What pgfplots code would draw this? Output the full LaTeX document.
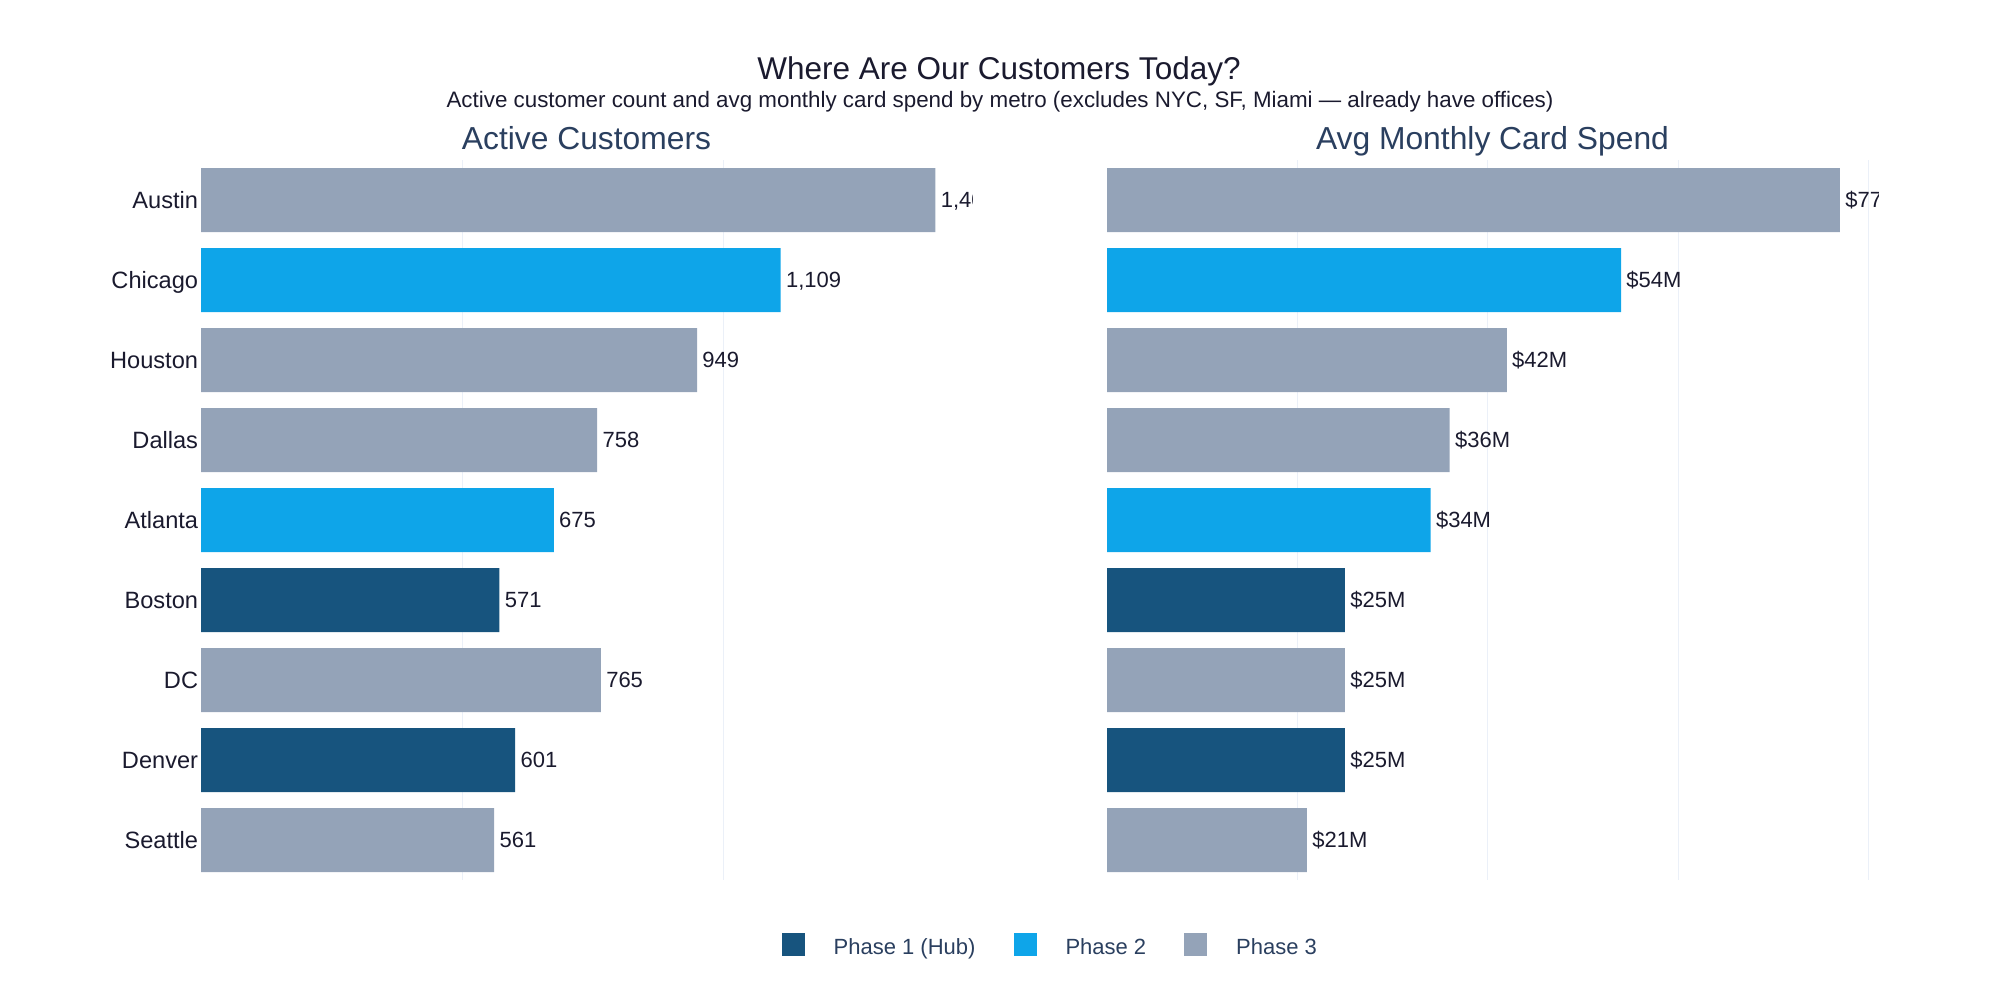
\documentclass[border=0pt]{standalone}
\usepackage{pgfplots}
\pgfplotsset{compat=1.18}
\usepackage{fontspec}
\setmainfont{Liberation Sans}

\definecolor{pone}{HTML}{17547E}
\definecolor{ptwo}{HTML}{0EA5E9}
\definecolor{pthree}{HTML}{94A3B8}
\definecolor{ink}{HTML}{1A1A2E}
\definecolor{navy}{HTML}{2A3F5F}
\definecolor{gridc}{HTML}{EBF0F8}

\pgfplotsset{
  metro/.style={
    scale only axis, width=385.5pt, height=360pt,
    anchor=south west,
    xbar, bar width=0.8, bar shift=0pt,
    y dir=reverse, ymin=-0.5, ymax=8.5,
    xmin=0,
    ytick={0,...,8},
    axis line style={draw=none},
    tick style={draw=none},
    xticklabels={},
    xmajorgrids, major grid style={gridc, line width=0.5pt},
    clip marker paths=true,
    point meta=x,
    nodes near coords,
    every node near coord/.append style={font=\fontsize{11}{13}\selectfont, text=ink,
      anchor=west, inner xsep=2.5pt, text height=7.9pt, text depth=0pt},
    yticklabel style={font=\fontsize{11.8}{14}\selectfont, text=ink,
      inner xsep=1pt, xshift=4pt, text height=8.45pt, text depth=0pt},
    title style={at={(0.5,1)}, anchor=base, yshift=-0.5pt,
      font=\fontsize{15.9}{18}\selectfont, text=navy},
    /pgf/number format/assume math mode=true,
  },
}

\begin{document}
\begin{tikzpicture}
\useasboundingbox (0,0) rectangle (1000pt,500pt);

\node[anchor=base, font=\fontsize{15.75}{18}\selectfont, text=ink] at (499.5pt,460pt)
  {Where Are Our Customers Today?};
\node[anchor=base, font=\fontsize{11.18}{13}\selectfont, text=ink] at (500pt,446.2pt)
  {Active customer count and avg monthly card spend by metro (excludes NYC, SF, Miami — already have offices)};

% left: active customers
\begin{axis}[metro, at={(100.5pt,60pt)},
  xmax=1475, xtick={500,1000},
  title={Active Customers},
  yticklabels={Austin,Chicago,Houston,Dallas,Atlanta,Boston,DC,Denver,Seattle},
  legend cell align=left,
  legend columns=3,
  legend image code/.code={\fill[#1] (0pt,-5.75pt) rectangle (11.5pt,5.75pt);},
  legend style={at={(0.7531,-0.0899)}, anchor=west, draw=none, fill=none,
    inner sep=0pt, outer sep=0pt, font=\fontsize{11}{13}\selectfont, text=navy,
    nodes={inner sep=0pt, text height=9.6pt, text depth=0pt},
    /tikz/every odd column/.append style={column sep=14.5pt},
    /tikz/every even column/.append style={column sep=19pt}},
]
\addplot[fill=pone, draw=none, bar shift=0pt] coordinates {(571,5) (601,7)};
\addlegendentry{Phase 1 (Hub)}
\addplot[fill=ptwo, draw=none, bar shift=0pt] coordinates {(1109,1) (675,4)};
\addlegendentry{Phase 2}
\addplot[fill=pthree, draw=none, bar shift=0pt] coordinates {(1405,0) (949,2) (758,3) (765,6) (561,8)};
\addlegendentry{Phase 3}
\end{axis}

% right: avg monthly card spend ($M)
\begin{axis}[metro, at={(553.5pt,60pt)},
  xmax=81, xtick={20,40,60,80},
  title={Avg Monthly Card Spend},
  yticklabels={},
  nodes near coords={\$\pgfmathprintnumber{\pgfplotspointmeta}M},
]
\addplot[fill=pone, draw=none, bar shift=0pt] coordinates {(25,5) (25,7)};
\addplot[fill=ptwo, draw=none, bar shift=0pt] coordinates {(54,1) (34,4)};
\addplot[fill=pthree, draw=none, bar shift=0pt] coordinates {(77,0) (42,2) (36,3) (25,6) (21,8)};
\end{axis}
\end{tikzpicture}
\end{document}
